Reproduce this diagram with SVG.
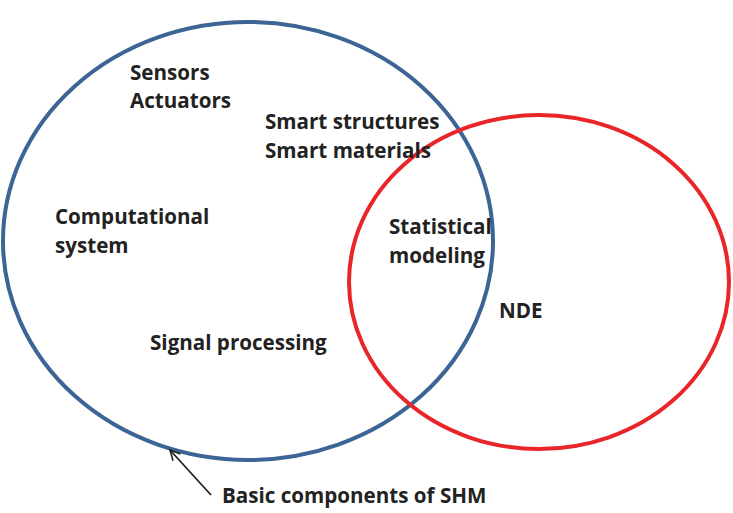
<svg xmlns="http://www.w3.org/2000/svg" width="733" height="513" viewBox="0 0 733 513">
<defs>
<style>
.t{font-family:"Open Sans","Liberation Sans",sans-serif;font-weight:bold;font-size:20.6px;fill:#222}
.c{fill:none;stroke-width:4}
</style>
<marker id="ah" viewBox="0 0 12 12" refX="11" refY="6" markerWidth="12" markerHeight="12" markerUnits="userSpaceOnUse" orient="auto">
<path d="M1,1 L11,6 L1,11" fill="none" stroke="#222" stroke-width="1.6"/>
</marker>
</defs>
<rect width="733" height="513" fill="#fff"/>
<g id="shm">
<ellipse class="c" cx="248" cy="241" rx="245" ry="219" stroke="#3c6494"/>
</g>
<g id="nde">
<ellipse class="c" cx="539" cy="282" rx="190" ry="167" stroke="#e8262a"/>
</g>
<g id="labels">
<text class="t" x="130" y="80">Sensors</text>
<text class="t" x="130" y="108">Actuators</text>
<text class="t" x="265" y="129">Smart structures</text>
<text class="t" x="265" y="158">Smart materials</text>
<text class="t" x="55" y="224">Computational</text>
<text class="t" x="55" y="253">system</text>
<text class="t" x="389" y="234">Statistical</text>
<text class="t" x="389" y="263">modeling</text>
<text class="t" x="499" y="318">NDE</text>
<text class="t" x="150" y="350">Signal processing</text>
<text class="t" x="222" y="503">Basic components of SHM</text>
</g>
<g id="connectors">
<line x1="211" y1="495" x2="170" y2="450" stroke="#222" stroke-width="1.8" marker-end="url(#ah)"/>
</g>
</svg>
